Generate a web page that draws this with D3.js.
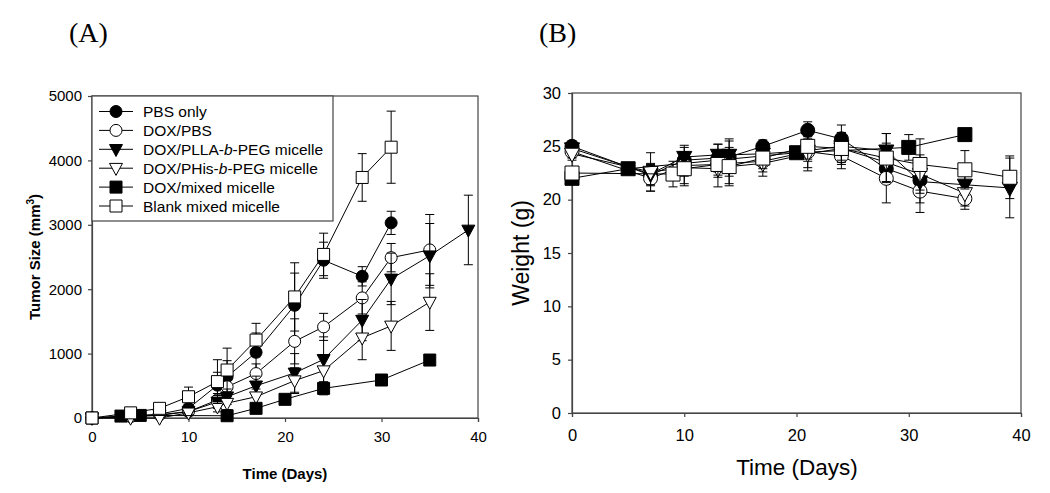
<!DOCTYPE html>
<html><head><meta charset="utf-8">
<script src="https://cdn.jsdelivr.net/npm/d3@7"></script>
<style>
body{margin:0;background:#fff;}
svg{display:block;font-family:"Liberation Sans",Arial,sans-serif;}
</style></head>
<body>
<svg id="chart" width="1050" height="493"></svg>
<script>
// ---------- DATA ----------
const seriesNames = ["PBS only","DOX/PBS","DOX/PLLA-b-PEG micelle","DOX/PHis-b-PEG micelle","DOX/mixed micelle","Blank mixed micelle"];
const seriesMarkers = ["circleFilled","circleOpen","triFilled","triOpen","squareFilled","squareOpen"];

// Panel A: tumor size (mm3)
const aPbsDays = [0,4,7,10,13,14,17,21,24,28,31];
const aPbsVals = [0,30,60,150,510,640,1020,1750,2450,2200,3030];
const aPbsErr  = [0,20,30,60,200,250,300,500,280,150,180];
const aDoxDays = [0,4,7,10,13,14,17,21,24,28,31,35];
const aDoxVals = [0,20,50,100,280,485,690,1190,1415,1865,2490,2610];
const aDoxErr  = [0,20,30,50,100,150,150,350,210,250,220,550];
const aPllaDays = [0,4,7,10,13,14,17,21,24,28,31,35,39];
const aPllaVals = [0,20,40,100,250,330,500,700,910,1520,2160,2520,2920];
const aPllaErr  = [0,10,20,40,100,120,150,300,350,320,400,500,540];
const aPhisDays = [0,4,7,10,13,14,17,21,24,28,31,35];
const aPhisVals = [0,0,0,80,175,230,330,580,735,1245,1430,1800];
const aPhisErr  = [0,10,10,40,80,100,120,200,250,340,380,440];
const aMixDays = [0,3,5,14,17,20,24,30,35];
const aMixVals = [0,30,40,35,150,290,460,590,900];
const aMixErr  = [0,20,20,20,40,50,100,50,80];
const aBlankDays = [0,4,7,10,13,14,17,21,24,28,31];
const aBlankVals = [0,80,150,330,565,745,1210,1880,2540,3735,4205];
const aBlankErr  = [0,30,50,150,340,340,260,530,330,370,560];

// Panel B: body weight (g)
const bPbsDays = [0,7,10,13,14,17,21,24,28,31];
const bPbsVals = [25.0,22.3,23.7,23.9,24.0,25.0,26.5,25.7,22.9,21.8];
const bPbsErr  = [0.5,1.0,1.2,1.3,1.5,0.6,0.8,1.3,1.2,1.5];
const bDoxDays = [0,7,10,13,14,17,21,24,28,31,35];
const bDoxVals = [24.5,22.0,23.2,23.3,23.4,23.6,24.5,24.1,22.0,20.8,20.1];
const bDoxErr  = [0.6,1.2,1.0,1.0,1.2,1.0,1.5,1.2,2.3,2.0,1.0];
const bPllaDays = [0,7,10,13,14,17,21,24,28,31,35,39];
const bPllaVals = [24.8,22.4,24.0,24.2,24.2,24.3,24.6,25.0,24.6,21.7,21.4,21.1];
const bPllaErr  = [0.5,1.0,1.1,1.0,1.5,1.0,1.0,1.3,1.6,2.0,1.0,2.8];
const bPhisDays = [0,7,10,13,14,17,21,24,28,31,35];
const bPhisVals = [24.3,22.6,23.0,22.9,23.1,23.4,24.3,24.8,23.5,22.4,20.6];
const bPhisErr  = [0.6,1.8,1.5,1.7,1.6,1.2,1.6,1.5,1.8,1.8,1.2];
const bMixDays = [0,5,20,30,35];
const bMixVals = [22.0,22.9,24.4,24.9,26.1];
const bMixErr  = [0.3,0.3,0.5,1.2,0.3];
const bBlankDays = [0,9,10,13,14,17,21,24,28,31,35,39];
const bBlankVals = [22.5,22.4,22.9,23.3,23.1,23.9,25.0,24.8,23.9,23.3,22.8,22.1];
const bBlankErr  = [0.4,1.2,1.6,1.2,1.8,1.0,1.2,1.3,2.3,2.4,1.8,2.0];

const xTicks = [0,10,20,30,40];
const aYTicks = [0,1000,2000,3000,4000,5000];
const bYTicks = [0,5,10,15,20,25,30];

// ---------- BUILD ----------
function zip(d,v,e){return d.map((x,i)=>({x:x,y:v[i],e:e[i]}));}
const aSeries = [
  zip(aPbsDays,aPbsVals,aPbsErr), zip(aDoxDays,aDoxVals,aDoxErr),
  zip(aPllaDays,aPllaVals,aPllaErr), zip(aPhisDays,aPhisVals,aPhisErr),
  zip(aMixDays,aMixVals,aMixErr), zip(aBlankDays,aBlankVals,aBlankErr)];
const bSeries = [
  zip(bPbsDays,bPbsVals,bPbsErr), zip(bDoxDays,bDoxVals,bDoxErr),
  zip(bPllaDays,bPllaVals,bPllaErr), zip(bPhisDays,bPhisVals,bPhisErr),
  zip(bMixDays,bMixVals,bMixErr), zip(bBlankDays,bBlankVals,bBlankErr)];

const svg = d3.select("#chart");
const axisColor = "#444";

function markerPath(type, s){
  if(type.startsWith("circle")){
    const r=s/2; return `M${-r},0A${r},${r} 0 1,0 ${r},0A${r},${r} 0 1,0 ${-r},0Z`;
  }
  if(type.startsWith("square")){
    const h=s/2; return `M${-h},${-h}H${h}V${h}H${-h}Z`;
  }
  const w=s*1.08/2, h=s;
  return `M${-w},${-h*0.4}L${w},${-h*0.4}L0,${h*0.6}Z`;
}
function markerFill(type){return type.endsWith("Filled")?"#000":"#fff";}

function drawPanel(cfg){
  const g = svg.append("g");
  const x = d3.scaleLinear().domain([0,40]).range([cfg.x0,cfg.x1]);
  const y = d3.scaleLinear().domain(cfg.yDomain).range([cfg.y0,cfg.y1]);
  g.append("rect").attr("x",cfg.x0).attr("y",cfg.y1).attr("width",cfg.x1-cfg.x0).attr("height",cfg.y0-cfg.y1)
    .attr("fill","none").attr("stroke",axisColor).attr("stroke-width",1.2);
  const xa = g.append("g").attr("transform",`translate(0,${cfg.y0})`)
    .call(d3.axisBottom(x).tickValues(xTicks).tickSize(4).tickPadding(cfg.xPad).tickFormat(d3.format("d")));
  const ya = g.append("g").attr("transform",`translate(${cfg.x0},0)`)
    .call(d3.axisLeft(y).tickValues(cfg.yTicks).tickSize(4).tickPadding(cfg.yPad).tickFormat(d3.format("d")));
  [xa,ya].forEach(a=>{
    a.select(".domain").attr("stroke",axisColor).attr("stroke-width",1.2);
    a.selectAll(".tick line").attr("stroke",axisColor).attr("stroke-width",1.2);
    a.selectAll(".tick text").attr("font-size",cfg.tickFont).attr("fill","#000")
      .attr("font-family","'Liberation Sans',Arial,sans-serif");
  });
  cfg.series.forEach((data,si)=>{
    const type = seriesMarkers[si];
    const sg = g.append("g");
    data.filter(d=>d.e>0).forEach(d=>{
      const cx=x(d.x), yt=y(d.y+d.e), yb=y(Math.max(cfg.yDomain[0],d.y-d.e));
      sg.append("line").attr("x1",cx).attr("x2",cx).attr("y1",yt).attr("y2",yb).attr("stroke","#000").attr("stroke-width",1);
      sg.append("line").attr("x1",cx-cfg.cap).attr("x2",cx+cfg.cap).attr("y1",yt).attr("y2",yt).attr("stroke","#000").attr("stroke-width",1);
      if(d.y-d.e>cfg.yDomain[0])
        sg.append("line").attr("x1",cx-cfg.cap).attr("x2",cx+cfg.cap).attr("y1",yb).attr("y2",yb).attr("stroke","#000").attr("stroke-width",1);
    });
    sg.append("path").datum(data)
      .attr("d",d3.line().x(d=>x(d.x)).y(d=>y(d.y)))
      .attr("fill","none").attr("stroke","#000").attr("stroke-width",1);
    sg.selectAll("path.m").data(data).enter().append("path").attr("class","m")
      .attr("transform",d=>`translate(${x(d.x)},${y(d.y)})`)
      .attr("d",markerPath(type,cfg.msize))
      .attr("fill",markerFill(type)).attr("stroke","#000").attr("stroke-width",1);
  });
  return {g,x,y};
}

const A = drawPanel({x0:92,x1:478,y0:418,y1:96,yDomain:[0,5000],yTicks:aYTicks,series:aSeries,
  xPad:9,yPad:6,tickFont:"15px",cap:4.5,msize:12});
const B = drawPanel({x0:572,x1:1021,y0:413,y1:93,yDomain:[0,30],yTicks:bYTicks,series:bSeries,
  xPad:12,yPad:7,tickFont:"16.5px",cap:4.5,msize:14});

// Legend (panel A)
const lg = svg.append("g");
lg.append("rect").attr("x",92).attr("y",96).attr("width",241).attr("height",125)
  .attr("fill","#fff").attr("stroke",axisColor).attr("stroke-width",1.2);
seriesNames.forEach((name,i)=>{
  const yy = 111.5 + i*18.9;
  lg.append("line").attr("x1",99).attr("x2",133).attr("y1",yy).attr("y2",yy).attr("stroke","#000");
  lg.append("path").attr("transform",`translate(116,${yy})`).attr("d",markerPath(seriesMarkers[i],12))
    .attr("fill",markerFill(seriesMarkers[i])).attr("stroke","#000");
  const t = lg.append("text").attr("x",143).attr("y",yy+5.5).attr("font-size","15.5px").attr("fill","#000");
  const parts = name.split("-b-");
  if(parts.length===2){
    t.append("tspan").text(parts[0]+"-");
    t.append("tspan").attr("font-style","italic").text("b");
    t.append("tspan").text("-"+parts[1]);
  } else t.text(name);
});

// Axis titles
svg.append("text").attr("x",285).attr("y",479).attr("text-anchor","middle")
  .attr("font-size","15px").attr("font-weight","bold").text("Time (Days)");
const yl = svg.append("text").attr("transform","translate(40,257) rotate(-90)").attr("text-anchor","middle")
  .attr("font-size","15px").attr("font-weight","bold");
yl.append("tspan").text("Tumor Size (mm");
yl.append("tspan").attr("dy","-6").attr("font-size","10px").text("3");
yl.append("tspan").attr("dy","6").text(")");

svg.append("text").attr("x",797).attr("y",475).attr("text-anchor","middle")
  .attr("font-size","22.5px").text("Time (Days)");
svg.append("text").attr("transform","translate(529,253) rotate(-90)").attr("text-anchor","middle")
  .attr("font-size","23px").text("Weight (g)");

// Panel letters
svg.append("text").attr("x",69).attr("y",42).attr("font-family","'Liberation Serif','Times New Roman',serif")
  .attr("font-size","28px").text("(A)");
svg.append("text").attr("x",539).attr("y",42).attr("font-family","'Liberation Serif','Times New Roman',serif")
  .attr("font-size","28px").text("(B)");
</script>
</body></html>
